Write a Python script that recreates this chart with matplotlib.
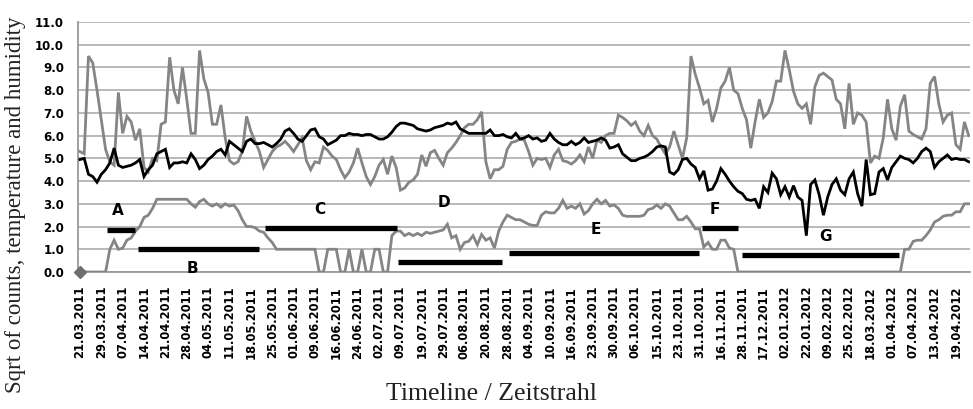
import matplotlib
matplotlib.use("Agg")
import matplotlib.pyplot as plt

# ---------------- data ----------------
date_labels = [
    "21.03.2011", "29.03.2011", "07.04.2011", "14.04.2011", "21.04.2011", "28.04.2011",
    "04.05.2011", "11.05.2011", "18.05.2011", "25.05.2011", "01.06.2011", "09.06.2011",
    "16.06.2011", "24.06.2011", "02.07.2011", "09.07.2011", "19.07.2011", "29.07.2011",
    "06.08.2011", "20.08.2011", "28.08.2011", "04.09.2011", "10.09.2011", "16.09.2011",
    "23.09.2011", "30.09.2011", "06.10.2011", "15.10.2011", "23.10.2011", "31.10.2011",
    "16.11.2011", "28.11.2011", "17.12.2011", "02.01.2012", "22.01.2012", "09.02.2012",
    "25.02.2012", "18.03.2012", "01.04.2012", "07.04.2012", "13.04.2012", "19.04.2012",
]

temperature = [
    4.95, 5.0, 4.3, 4.2, 3.95, 4.3, 4.5, 4.8, 5.45, 4.7,
    4.6, 4.65, 4.7, 4.8, 4.95, 4.2, 4.5, 4.7, 5.2, 5.3,
    5.4, 4.6, 4.8, 4.8, 4.85, 4.8, 5.2, 4.95, 4.55, 4.7,
    4.95, 5.1, 5.3, 5.4, 5.15, 5.75, 5.6, 5.45, 5.3, 5.75,
    5.85, 5.65, 5.65, 5.7, 5.6, 5.5, 5.65, 5.85, 6.2, 6.3,
    6.1, 5.85, 5.75, 6.0, 6.25, 6.3, 5.95, 5.85, 5.6, 5.7,
    5.8, 6.0, 6.0, 6.1, 6.05, 6.05, 6.0, 6.05, 6.05, 5.95,
    5.85, 5.85, 5.95, 6.15, 6.4, 6.55, 6.55, 6.5, 6.45, 6.3,
    6.25, 6.2, 6.25, 6.35, 6.4, 6.45, 6.55, 6.5, 6.6, 6.3,
    6.2, 6.1, 6.1, 6.1, 6.1, 6.1, 6.25, 6.0, 6.0, 6.05,
    5.95, 5.9, 6.1, 5.85, 5.9, 6.0, 5.85, 5.9, 5.75, 5.8,
    6.1, 5.85, 5.7, 5.6, 5.6, 5.75, 5.6, 5.7, 5.9, 5.7,
    5.75, 5.8, 5.9, 5.8, 5.45, 5.5, 5.6, 5.2, 5.05, 4.9,
    4.9, 5.0, 5.05, 5.15, 5.3, 5.5, 5.55, 5.5, 4.4, 4.3,
    4.5, 4.95, 5.0, 4.75, 4.6, 4.1, 4.45, 3.6, 3.65, 4.0,
    4.55, 4.3, 4.0, 3.75, 3.55, 3.45, 3.2, 3.15, 3.2, 2.8,
    3.75, 3.5, 4.35, 4.1, 3.4, 3.75, 3.3, 3.8, 3.3, 3.15,
    1.6, 3.85, 4.05, 3.4, 2.5, 3.3, 3.85, 4.1, 3.6, 3.4,
    4.1, 4.4, 3.45, 2.9, 4.95, 3.4, 3.45, 4.4, 4.55, 4.05,
    4.6, 4.85, 5.1, 5.0, 4.95, 4.8, 5.0, 5.3, 5.45, 5.3,
    4.6, 4.85, 5.0, 5.15, 4.95, 5.0, 4.95, 4.95, 4.85,
]

humidity = [
    5.3, 5.2, 9.5, 9.2, 8.0, 6.7, 5.4, 4.85, 4.7, 7.9,
    6.1, 6.85, 6.6, 5.8, 6.3, 4.6, 4.4, 5.0, 4.9, 6.5,
    6.6, 9.45, 8.0, 7.4, 9.0, 7.6, 6.1, 6.1, 9.75, 8.5,
    7.9, 6.5, 6.5, 7.35, 5.9, 4.9, 4.75, 4.85, 5.3, 6.85,
    6.2, 5.75, 5.3, 4.6, 4.95, 5.3, 5.5, 5.6, 5.75, 5.55,
    5.3, 5.6, 5.9, 4.9, 4.5, 4.85, 4.8, 5.5, 5.35, 5.1,
    4.95, 4.5, 4.15, 4.4, 4.8, 5.45, 4.8, 4.2, 3.85, 4.2,
    4.7, 4.95, 4.3, 5.1, 4.6, 3.6, 3.7, 3.95, 4.05, 4.3,
    5.15, 4.65, 5.25, 5.35, 5.0, 4.7, 5.25, 5.45, 5.7, 6.0,
    6.35, 6.5, 6.5, 6.7, 7.05, 4.85, 4.1, 4.5, 4.5, 4.65,
    5.4, 5.7, 5.75, 5.85, 5.8, 5.3, 4.7, 5.0, 4.95, 5.0,
    4.6, 5.15, 5.4, 4.9, 4.85, 4.75, 4.9, 5.15, 4.85, 5.5,
    5.0, 5.8, 5.7, 6.0, 6.1, 6.1, 6.9, 6.8, 6.65, 6.45,
    6.6, 6.2, 6.0, 6.45, 6.0, 5.85, 5.5, 5.2, 5.5, 6.2,
    5.6, 5.0, 5.9, 9.5, 8.7, 8.1, 7.4, 7.55, 6.6, 7.2,
    8.1, 8.4, 9.0, 8.0, 7.85, 7.2, 6.7, 5.45, 6.6, 7.6,
    6.8, 7.0, 7.5, 8.4, 8.4, 9.75, 8.9, 7.95, 7.4, 7.2,
    7.4, 6.5, 8.15, 8.65, 8.75, 8.6, 8.45, 7.6, 7.4, 6.3,
    8.3, 6.5, 7.0, 6.9, 6.6, 4.8, 5.1, 5.0, 5.9, 7.6,
    6.3, 5.8, 7.3, 7.8, 6.2, 6.05, 5.95, 5.85, 6.3, 8.3,
    8.6, 7.4, 6.6, 6.9, 7.0, 5.6, 5.4, 6.6, 6.0,
]

sqrt_counts = [
    0, 0, 0, 0, 0, 0, 0, 1.0, 1.4, 1.0,
    1.05, 1.4, 1.5, 1.8, 2.0, 2.4, 2.5, 2.8, 3.2, 3.2,
    3.2, 3.2, 3.2, 3.2, 3.2, 3.2, 3.0, 2.85, 3.1, 3.2,
    3.0, 2.9, 3.0, 2.85, 3.0, 2.9, 2.95, 2.7, 2.3, 2.0,
    2.0, 1.95, 1.8, 1.75, 1.5, 1.3, 1.0, 1.0, 1.0, 1.0,
    1.0, 1.0, 1.0, 1.0, 1.0, 1.0, 0, 0, 1.0, 1.0,
    1.0, 0, 0, 1.0, 0, 0, 1.0, 0, 0, 1.0,
    1.0, 0, 0, 1.6, 1.8, 1.8, 1.6, 1.7, 1.6, 1.7,
    1.6, 1.75, 1.7, 1.75, 1.8, 1.85, 2.1, 1.5, 1.6, 1.0,
    1.3, 1.35, 1.6, 1.2, 1.65, 1.4, 1.5, 1.05, 1.8, 2.2,
    2.5, 2.4, 2.3, 2.3, 2.2, 2.1, 2.05, 2.05, 2.5, 2.65,
    2.6, 2.6, 2.8, 3.15, 2.8, 2.9, 2.8, 3.0, 2.55, 2.7,
    3.0, 3.2, 3.0, 3.15, 2.9, 2.95, 2.8, 2.5, 2.45, 2.45,
    2.45, 2.45, 2.5, 2.75, 2.8, 2.95, 2.8, 3.0, 2.9, 2.6,
    2.3, 2.3, 2.45, 2.2, 1.9, 1.9, 1.1, 1.3, 1.0, 1.0,
    1.4, 1.4, 1.05, 1.0, 0, 0, 0, 0, 0, 0,
    0, 0, 0, 0, 0, 0, 0, 0, 0, 0,
    0, 0, 0, 0, 0, 0, 0, 0, 0, 0,
    0, 0, 0, 0, 0, 0, 0, 0, 0, 0,
    0, 0, 0, 1.0, 1.0, 1.35, 1.4, 1.4, 1.6, 1.85,
    2.2, 2.3, 2.45, 2.5, 2.5, 2.65, 2.65, 3.0, 3.0,
]

# phase bars (start index, end index, level) and their letters
phase_names = ["A", "B", "C", "D", "E", "F", "G"]
phase_start = [6.3, 13.7, 43.2, 74.5, 100.5, 145.6, 155.0]
phase_end = [13.0, 42.0, 74.3, 98.8, 144.9, 153.9, 191.6]
phase_level = [1.85, 1.0, 1.95, 0.43, 0.83, 1.93, 0.75]
phase_label_x = [8.9, 26.4, 56.1, 85.3, 120.8, 148.6, 174.5]
phase_label_y = [2.7, 0.15, 2.75, 3.05, 1.85, 2.75, 1.55]

# ---------------- figure ----------------
W, H = 973, 409
fig = plt.figure(figsize=(W / 100, H / 100), dpi=100)
ax = fig.add_axes([78 / W, 1 - 272 / H, (970 - 78) / W, (272 - 22) / H])

xs = list(range(len(temperature)))
gray = "#858585"

ax.set_axisbelow(True)
ax.yaxis.grid(True, color="#b3b3b3", lw=1.3)

ax.plot(xs, humidity, color=gray, lw=2.0, solid_joinstyle="miter", zorder=3)
ax.plot(xs, sqrt_counts, color=gray, lw=2.0, solid_joinstyle="miter", zorder=3)
ax.plot(xs, temperature, color="black", lw=2.0, solid_joinstyle="miter", zorder=4)
ax.plot(xs[:1], sqrt_counts[:1], marker="D", ms=6, color="#6e6e6e",
        clip_on=False, zorder=5)

for name, s, e, lev, lx, ly in zip(phase_names, phase_start, phase_end,
                                    phase_level, phase_label_x, phase_label_y):
    ax.plot([s, e], [lev, lev], color="black", lw=3.8, solid_capstyle="butt", zorder=6)
    ax.text(lx, ly, name, ha="center", va="center", fontsize=11,
            fontweight="bold", family="DejaVu Sans", color="black", zorder=7)

ax.set_xlim(-0.45, 208.3)
ax.set_ylim(0, 11)
ax.set_yticks(range(0, 12))
ax.set_yticklabels([f"{v:.1f}" for v in range(0, 12)], fontsize=8.5,
                   fontweight="bold", family="DejaVu Sans")
ax.set_xticks(range(0, 5 * len(date_labels), 5))
ax.set_xticklabels(date_labels, rotation=90, fontsize=8.3, fontweight="bold",
                   family="DejaVu Sans")
ax.tick_params(axis="both", length=0)
ax.tick_params(axis="y", pad=10)
ax.tick_params(axis="x", pad=10)

for side in ["top", "right"]:
    ax.spines[side].set_visible(False)
ax.spines["left"].set_color("#9a9a9a")
ax.spines["left"].set_linewidth(1.3)
ax.spines["bottom"].set_color("#9a9a9a")
ax.spines["bottom"].set_linewidth(1.3)

fig.text(16 / W, 0.5, "Sqrt of counts, temperature and humidity", rotation=90,
         ha="center", va="center", fontsize=16.5, family="Liberation Serif",
         color="#222222")
fig.text(491 / W, 1 - 394 / H, "Timeline / Zeitstrahl", ha="center", va="center",
         fontsize=18.5, family="Liberation Serif", color="#222222")

fig.savefig("out.png", dpi=100)
